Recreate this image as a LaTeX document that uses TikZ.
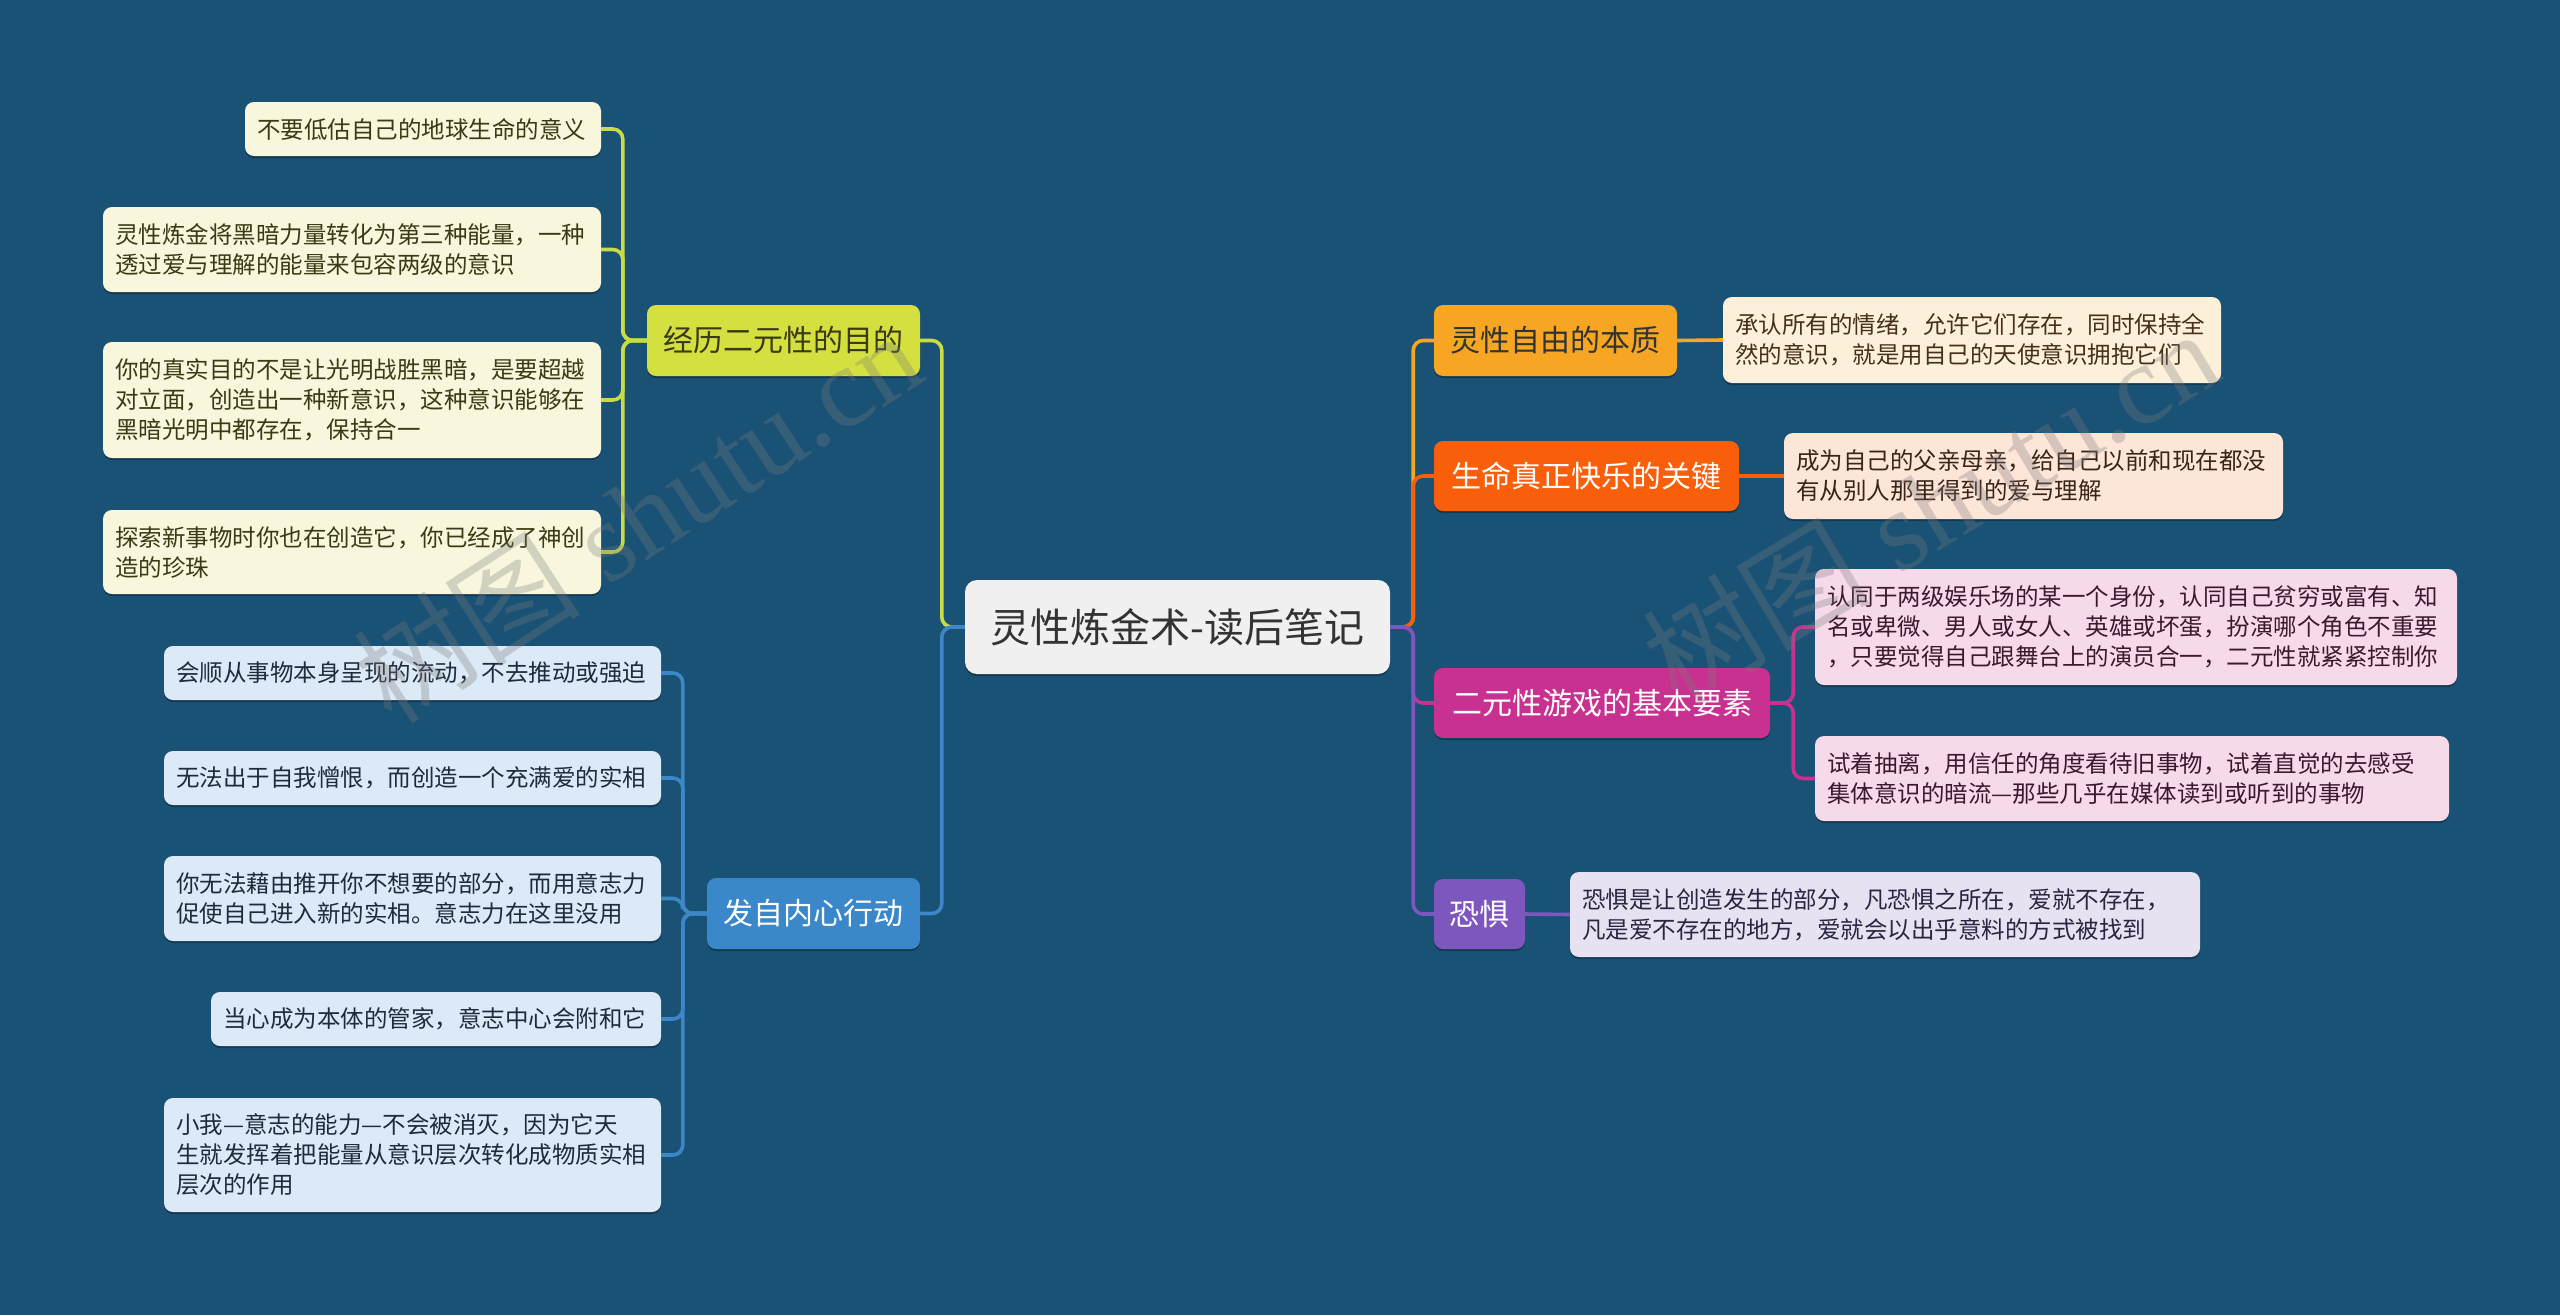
\documentclass[tikz,border=0pt]{standalone}
\usepackage{fontspec}
\newfontfamily\cjk{Noto Sans CJK SC}
\newfontfamily\wmser{Liberation Serif}
\usetikzlibrary{shadows}
\definecolor{bg}{HTML}{1A5276}
\definecolor{rootfill}{HTML}{F0F0F0}
\definecolor{roottext}{HTML}{333333}
\definecolor{aFill}{HTML}{D3E03F}
\definecolor{aLine}{HTML}{C9DC45}
\definecolor{aChild}{HTML}{F8F7DD}
\definecolor{aText}{HTML}{3A3A14}
\definecolor{bFill}{HTML}{3A87C9}
\definecolor{bLine}{HTML}{3D86C8}
\definecolor{bChild}{HTML}{DCE9F6}
\definecolor{bText}{HTML}{1F2B38}
\definecolor{cFill}{HTML}{F6A623}
\definecolor{cChild}{HTML}{FDF0DB}
\definecolor{cText}{HTML}{45301A}
\definecolor{dFill}{HTML}{F95E0A}
\definecolor{dChild}{HTML}{FDE5D8}
\definecolor{dText}{HTML}{3A2418}
\definecolor{eFill}{HTML}{C8318F}
\definecolor{eChild}{HTML}{F6DAEA}
\definecolor{eText}{HTML}{3A1A2E}
\definecolor{fFill}{HTML}{7D57BE}
\definecolor{fChild}{HTML}{E7E2F2}
\definecolor{fText}{HTML}{2A2540}
\definecolor{wm}{HTML}{7A7A7A}
\tikzset{
  sh/.style={drop shadow={shadow xshift=0pt,shadow yshift=-2pt,opacity=0.3,fill=black}},
  rootbox/.style={rounded corners=12, fill=rootfill, text=roottext, inner sep=0pt, sh,
    font=\cjk\fontsize{40}{48}\selectfont},
  mainbox/.style={rounded corners=9, inner sep=0pt, sh, font=\cjk\fontsize{30}{36}\selectfont},
  leafbox/.style={rounded corners=9, inner xsep=12pt, inner ysep=0pt, align=left, sh,
    font=\cjk\fontsize{23.5}{30}\selectfont},
  conn/.style={line width=3.6pt, rounded corners=10},
  wmark/.style={text=wm, opacity=0.3, inner sep=0pt},
}
\begin{document}
\begin{tikzpicture}[x=1pt,y=-1pt]
\path[use as bounding box, fill=bg] (0,0) rectangle (2560,1315);

% root
\node[rootbox, minimum width=425, minimum height=94] (root) at (1177.5,627) {灵性炼金术-读后笔记};

% left branch A
\node[mainbox, fill=aFill, text=aText, minimum width=273, minimum height=71] (A) at (783.5,340.5) {经历二元性的目的};
\node[leafbox, fill=aChild, text=aText, text width=332pt, minimum height=54] (A1) at (423,129) {不要低估自己的地球生命的意义};
\node[leafbox, fill=aChild, text=aText, text width=474pt, minimum height=85] (A2) at (352,249.5) {灵性炼金将黑暗力量转化为第三种能量，一种\\透过爱与理解的能量来包容两级的意识};
\node[leafbox, fill=aChild, text=aText, text width=474pt, minimum height=116] (A3) at (352,400) {你的真实目的不是让光明战胜黑暗，是要超越\\对立面，创造出一种新意识，这种意识能够在\\黑暗光明中都存在，保持合一};
\node[leafbox, fill=aChild, text=aText, text width=474pt, minimum height=84] (A4) at (352,552) {探索新事物时你也在创造它，你已经成了神创\\造的珍珠};

% left branch B
\node[mainbox, fill=bFill, text=white, minimum width=213, minimum height=71] (B) at (813.5,913.5) {发自内心行动};
\node[leafbox, fill=bChild, text=bText, text width=473pt, minimum height=54] (B1) at (412.5,673) {会顺从事物本身呈现的流动，不去推动或强迫};
\node[leafbox, fill=bChild, text=bText, text width=473pt, minimum height=54] (B2) at (412.5,778) {无法出于自我憎恨，而创造一个充满爱的实相};
\node[leafbox, fill=bChild, text=bText, text width=473pt, minimum height=85] (B3) at (412.5,898.5) {你无法藉由推开你不想要的部分，而用意志力\\促使自己进入新的实相。意志力在这里没用};
\node[leafbox, fill=bChild, text=bText, text width=426pt, minimum height=54] (B4) at (436,1019) {当心成为本体的管家，意志中心会附和它};
\node[leafbox, fill=bChild, text=bText, text width=473pt, minimum height=114] (B5) at (412.5,1155) {小我—意志的能力—不会被消灭，因为它天\\生就发挥着把能量从意识层次转化成物质实相\\层次的作用};

% right branches
\node[mainbox, fill=cFill, text=roottext, minimum width=243, minimum height=71] (C) at (1555.5,340.5) {灵性自由的本质};
\node[leafbox, fill=cChild, text=cText, text width=474pt, minimum height=86] (C1) at (1972,340) {承认所有的情绪，允许它们存在，同时保持全\\然的意识，就是用自己的天使意识拥抱它们};

\node[mainbox, fill=dFill, text=white, minimum width=305, minimum height=70] (D) at (1586.5,476) {生命真正快乐的关键};
\node[leafbox, fill=dChild, text=dText, text width=475pt, minimum height=86] (D1) at (2033.5,476) {成为自己的父亲母亲，给自己以前和现在都没\\有从别人那里得到的爱与理解};

\node[mainbox, fill=eFill, text=white, minimum width=336, minimum height=70] (E) at (1602,703) {二元性游戏的基本要素};
\node[leafbox, fill=eChild, text=eText, text width=618pt, minimum height=116] (E1) at (2136,627) {认同于两级娱乐场的某一个身份，认同自己贫穷或富有、知\\名或卑微、男人或女人、英雄或坏蛋，扮演哪个角色不重要\\，只要觉得自己跟舞台上的演员合一，二元性就紧紧控制你};
\node[leafbox, fill=eChild, text=eText, text width=610pt, minimum height=85] (E2) at (2132,778.5) {试着抽离，用信任的角度看待旧事物，试着直觉的去感受\\集体意识的暗流—那些几乎在媒体读到或听到的事物};

\node[mainbox, fill=fFill, text=white, minimum width=91, minimum height=70] (F) at (1479.5,914) {恐惧};
\node[leafbox, fill=fChild, text=fText, text width=606pt, minimum height=85] (F1) at (1885,914.5) {恐惧是让创造发生的部分，凡恐惧之所在，爱就不存在，\\凡是爱不存在的地方，爱就会以出乎意料的方式被找到};

% connectors root -> branches
\draw[conn, aLine] (root.west) -- ++(-23,0) |- (A.east);
\draw[conn, bLine] (root.west) -- ++(-23,0) |- (B.east);
\draw[conn, cFill] (root.east) -- ++(23,0) |- (C.west);
\draw[conn, dFill] (root.east) -- ++(23,0) |- (D.west);
\draw[conn, eFill] (root.east) -- ++(23,0) |- (E.west);
\draw[conn, fFill] (root.east) -- ++(23,0) |- (F.west);

% branch -> leaves
\foreach \n in {A1,A2,A3,A4} \draw[conn, aLine] (A.west) -- ++(-24,0) |- (\n.east);
\foreach \n in {B1,B2,B3,B4,B5} \draw[conn, bLine] (B.west) -- ++(-24,0) |- (\n.east);
\draw[conn, cFill] (C.east) -- (C1.west);
\draw[conn, dFill] (D.east) -- (D1.west);
\foreach \n in {E1,E2} \draw[conn, eFill] (E.east) -- ++(23,0) |- (\n.west);
\draw[conn, fFill] (F.east) -- (F1.west);

% watermarks
\node[wmark, rotate=33] (wm1) at (637,516) {\fontsize{114}{120}\selectfont\cjk 树图\wmser\ shutu.cn};
\node[wmark, rotate=31] (wm2) at (1930,506) {\fontsize{114}{120}\selectfont\cjk 树图\wmser\ shutu.cn};
\end{tikzpicture}
\end{document}
